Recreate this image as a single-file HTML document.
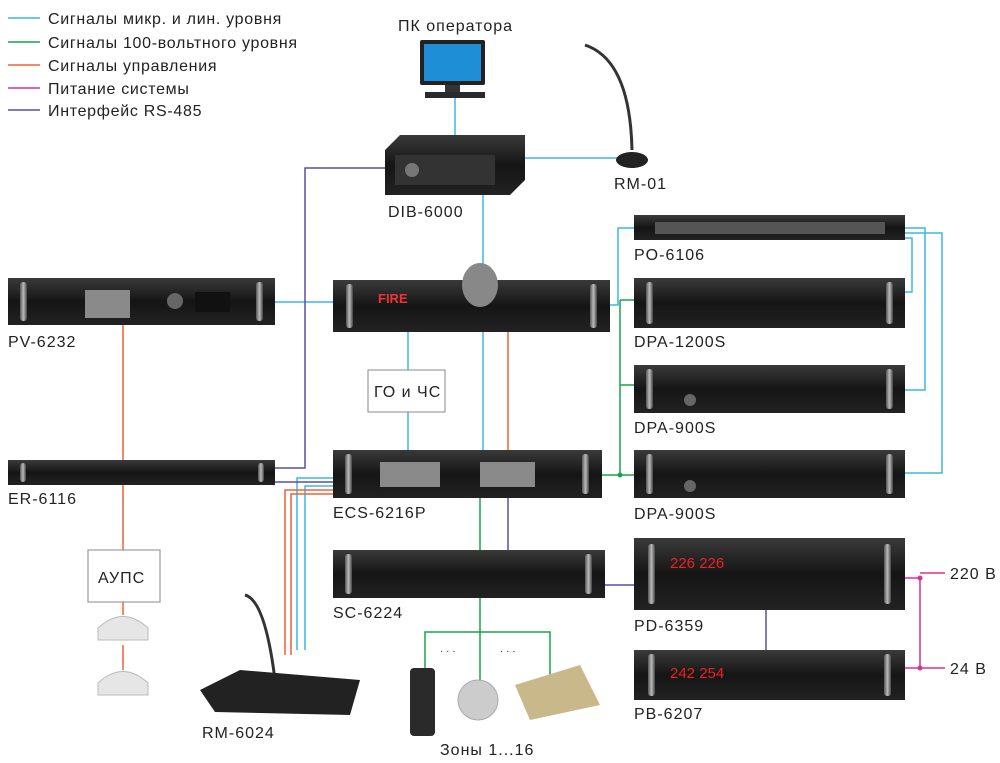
<!DOCTYPE html>
<html><head><meta charset="utf-8"><style>
html,body{margin:0;padding:0;background:#fff}
svg{display:block}
text{font-family:"Liberation Sans",sans-serif;fill:#222}
.lb{font-size:16px;letter-spacing:1px}
.lg{font-size:16px;letter-spacing:0.7px}
</style></head><body>
<svg width="1000" height="763" viewBox="0 0 1000 763" xmlns="http://www.w3.org/2000/svg">
<defs>
<linearGradient id="rk" x1="0" y1="0" x2="0" y2="1"><stop offset="0" stop-color="#3a3a3a"/><stop offset="0.5" stop-color="#151515"/><stop offset="1" stop-color="#222"/></linearGradient>
<linearGradient id="hd" x1="0" y1="0" x2="1" y2="0"><stop offset="0" stop-color="#555"/><stop offset="0.5" stop-color="#bbb"/><stop offset="1" stop-color="#444"/></linearGradient>
</defs>
<g stroke-width="1.5">
<line x1="8" y1="18" x2="40" y2="18" stroke="#3db7e4"/>
<line x1="8" y1="42" x2="40" y2="42" stroke="#1aa34a"/>
<line x1="8" y1="65" x2="40" y2="65" stroke="#f0603a"/>
<line x1="8" y1="88" x2="40" y2="88" stroke="#d9348a"/>
<line x1="8" y1="110" x2="40" y2="110" stroke="#5a4fa3"/>
</g>
<text class="lg" x="48" y="24">Сигналы микр. и лин. уровня</text>
<text class="lg" x="48" y="48">Сигналы 100-вольтного уровня</text>
<text class="lg" x="48" y="71">Сигналы управления</text>
<text class="lg" x="48" y="94">Питание системы</text>
<text class="lg" x="48" y="116">Интерфейс RS-485</text>

<g fill="none" stroke-width="1.5">
<g stroke="#3db7e4">
<line x1="455" y1="98" x2="455" y2="138"/>
<polyline points="525,158 620,158"/>
<line x1="483" y1="195" x2="483" y2="280"/>
<line x1="483" y1="332" x2="483" y2="450"/>
<line x1="408" y1="332" x2="408" y2="370"/>
<line x1="408" y1="412" x2="408" y2="450"/>
<polyline points="610,305 618,305 618,228 634,228"/>
<polyline points="905,228 925,228 925,390 905,390"/>
<polyline points="905,233 942,233 942,473 905,473"/>
<polyline points="905,238 912,238 912,292 905,292"/>
<line x1="275" y1="302" x2="333" y2="302"/>
<polyline points="297,650 297,478 333,478"/>
<polyline points="305,650 305,486 333,486"/>
</g>
<g stroke="#5a4fa3">
<polyline points="385,168 305,168 305,468 275,468"/>
<line x1="275" y1="482" x2="333" y2="482"/>
<line x1="508" y1="498" x2="508" y2="550"/>
<line x1="605" y1="585" x2="634" y2="585"/>
<line x1="766" y1="610" x2="766" y2="650"/>
</g>
<g stroke="#f0603a">
<line x1="123" y1="325" x2="123" y2="460"/>
<line x1="123" y1="485" x2="123" y2="550"/>
<line x1="123" y1="602" x2="123" y2="615"/>
<line x1="123" y1="645" x2="123" y2="670"/>
<line x1="508" y1="332" x2="508" y2="450"/>
<polyline points="285,655 285,490 333,490"/>
<polyline points="291,655 291,494 333,494"/>
</g>
<g stroke="#1aa34a">
<polyline points="602,475 620,475"/>
<line x1="620" y1="300" x2="620" y2="475"/>
<line x1="620" y1="300" x2="634" y2="300"/>
<line x1="620" y1="385" x2="634" y2="385"/>
<line x1="620" y1="475" x2="634" y2="475"/>
<line x1="480" y1="498" x2="480" y2="550"/>
<line x1="480" y1="598" x2="480" y2="680"/>
<polyline points="425,680 425,632 550,632 550,680"/>
</g>
<circle cx="620" cy="475" r="2.5" fill="#1aa34a"/>
<g stroke="#d9348a">
<polyline points="905,578 920,578 920,668 905,668"/>
<line x1="920" y1="573" x2="945" y2="573"/>
<line x1="920" y1="668" x2="945" y2="668"/>
</g>
<circle cx="920" cy="578" r="2.5" fill="#d9348a"/>
<circle cx="920" cy="668" r="2.5" fill="#d9348a"/>
</g>

<rect x="420" y="40" width="65" height="45" rx="2" fill="#222"/>
<rect x="424" y="44" width="57" height="37" fill="#1e8fd6"/>
<rect x="445" y="85" width="15" height="7" fill="#333"/>
<rect x="425" y="92" width="60" height="6" fill="#2a2a2a"/>
<path d="M585,45 Q630,60 632,150" stroke="#333" stroke-width="3" fill="none"/>
<ellipse cx="632" cy="160" rx="16" ry="8" fill="#222"/>
<path d="M385,150 L400,135 L525,135 L525,180 L510,195 L385,195Z" fill="url(#rk)"/>
<rect x="395" y="155" width="100" height="30" fill="#333"/>
<circle cx="412" cy="170" r="7" fill="#777"/>

<g fill="url(#rk)">
<rect x="333" y="280" width="277" height="52"/>
<rect x="634" y="215" width="271" height="25"/>
<rect x="634" y="278" width="271" height="50"/>
<rect x="634" y="365" width="271" height="48"/>
<rect x="634" y="450" width="271" height="48"/>
<rect x="8" y="278" width="267" height="47"/>
<rect x="8" y="460" width="267" height="25"/>
<rect x="333" y="450" width="269" height="48"/>
<rect x="333" y="550" width="272" height="48"/>
<rect x="634" y="538" width="271" height="72"/>
<rect x="634" y="650" width="271" height="50"/>
</g>
<g fill="url(#hd)">
<rect x="346" y="284" width="7" height="44" rx="3"/><rect x="590" y="284" width="7" height="44" rx="3"/>
<rect x="646" y="282" width="7" height="42" rx="3"/><rect x="886" y="282" width="7" height="42" rx="3"/>
<rect x="646" y="369" width="7" height="40" rx="3"/><rect x="886" y="369" width="7" height="40" rx="3"/>
<rect x="646" y="454" width="7" height="40" rx="3"/><rect x="886" y="454" width="7" height="40" rx="3"/>
<rect x="20" y="282" width="7" height="39" rx="3"/><rect x="256" y="282" width="7" height="39" rx="3"/>
<rect x="20" y="463" width="6" height="19" rx="3"/><rect x="258" y="463" width="6" height="19" rx="3"/>
<rect x="345" y="454" width="7" height="40" rx="3"/><rect x="582" y="454" width="7" height="40" rx="3"/>
<rect x="345" y="554" width="7" height="40" rx="3"/><rect x="585" y="554" width="7" height="40" rx="3"/>
<rect x="648" y="544" width="7" height="60" rx="3"/><rect x="884" y="544" width="7" height="60" rx="3"/>
<rect x="648" y="654" width="7" height="42" rx="3"/><rect x="884" y="654" width="7" height="42" rx="3"/>
</g>
<g fill="#8a8a8a">
<rect x="380" y="462" width="60" height="25"/><rect x="480" y="462" width="55" height="25"/>
<rect x="85" y="290" width="45" height="28"/>
<rect x="655" y="222" width="230" height="12" fill="#555"/>
</g>
<g fill="#666"><circle cx="690" cy="400" r="6"/><circle cx="690" cy="486" r="6"/><circle cx="175" cy="301" r="8"/></g>
<text x="378" y="303" font-size="13" font-weight="bold" style="fill:#e33">FIRE</text>
<ellipse cx="480" cy="285" rx="18" ry="22" fill="#888"/>
<rect x="195" y="292" width="35" height="20" fill="#111"/>
<text x="670" y="568" font-size="15" style="fill:#e22">226 226</text>
<text x="670" y="678" font-size="15" style="fill:#e22">242 254</text>

<rect x="368" y="370" width="77" height="42" fill="#fff" stroke="#888"/>
<text class="lb" x="374" y="397">ГО и ЧС</text>
<rect x="88" y="550" width="72" height="52" fill="#fff" stroke="#888"/>
<text class="lb" x="98" y="583">АУПС</text>
<path d="M98,628 Q123,605 148,628 L148,640 L98,640Z" fill="#e6e6e6" stroke="#bbb"/>
<path d="M98,683 Q123,660 148,683 L148,695 L98,695Z" fill="#e6e6e6" stroke="#bbb"/>
<path d="M245,595 Q265,600 275,680" stroke="#333" stroke-width="3" fill="none"/>
<path d="M200,690 L240,670 L360,680 L350,715 L215,712Z" fill="#222"/>
<rect x="410" y="668" width="25" height="68" rx="4" fill="#2a2a2a"/>
<circle cx="478" cy="700" r="20" fill="#ccc" stroke="#aaa"/>
<path d="M515,685 L580,665 L600,705 L530,720Z" fill="#c9b98a"/>
<text x="440" y="654" font-size="10">· · ·</text>
<text x="500" y="654" font-size="10">· · ·</text>

<text class="lb" x="398" y="31">ПК оператора</text>
<text class="lb" x="614" y="189">RM-01</text>
<text class="lb" x="388" y="217">DIB-6000</text>
<text class="lb" x="634" y="260">PO-6106</text>
<text class="lb" x="634" y="347">DPA-1200S</text>
<text class="lb" x="634" y="433">DPA-900S</text>
<text class="lb" x="634" y="519">DPA-900S</text>
<text class="lb" x="8" y="347">PV-6232</text>
<text class="lb" x="8" y="504">ER-6116</text>
<text class="lb" x="333" y="518">ECS-6216P</text>
<text class="lb" x="333" y="618">SC-6224</text>
<text class="lb" x="634" y="631">PD-6359</text>
<text class="lb" x="634" y="719">PB-6207</text>
<text class="lb" x="202" y="738">RM-6024</text>
<text class="lb" x="440" y="755">Зоны 1...16</text>
<text class="lb" x="950" y="579">220 В</text>
<text class="lb" x="950" y="674">24 В</text>
</svg>
</body></html>
